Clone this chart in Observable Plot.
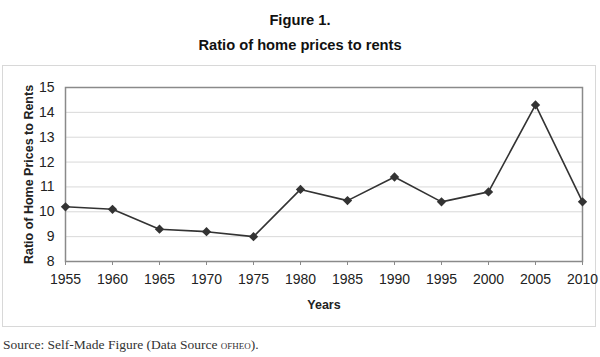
<!DOCTYPE html>
<html>
<head>
<meta charset="utf-8">
<script src="https://cdn.jsdelivr.net/npm/d3@7"></script>
<script src="https://cdn.jsdelivr.net/npm/@observablehq/plot@0.6"></script>
<style>
  html, body { margin: 0; padding: 0; background: #fff; }
  #wrap { position: relative; width: 600px; height: 357px; overflow: hidden; font-family: "Liberation Sans", Arial, sans-serif; }
  .title { position: absolute; left: 0; width: 600px; text-align: center; font-weight: bold; font-size: 14.7px; color: #111; }
  #box { position: absolute; left: 2px; top: 65px; width: 594px; height: 262px; border: 1px solid #d8d8d8; box-sizing: border-box; }
  #chart { position: absolute; left: 0; top: 65px; }
  #caption { position: absolute; left: 3px; top: 337px; font-family: "Liberation Serif", "DejaVu Serif", serif; font-size: 13.5px; color: #333; }
  .sc { font-variant: small-caps; }
</style>
</head>
<body>
<div id="wrap">
  <div class="title" style="top:12px">Figure 1.</div>
  <div class="title" style="top:37px">Ratio of home prices to rents</div>
  <div id="box"></div>
  <div id="chart"></div>
  <div id="caption">Source: Self-Made Figure (Data Source <span class="sc">ofheo</span>).</div>
</div>
<script>
const years = [1955, 1960, 1965, 1970, 1975, 1980, 1985, 1990, 1995, 2000, 2005, 2010];
const ratios = [10.2, 10.1, 9.3, 9.2, 9.0, 10.9, 10.45, 11.4, 10.4, 10.8, 14.3, 10.4];
const yTicks = [8, 9, 10, 11, 12, 13, 14, 15];
const yLabel = "Ratio of Home Prices to Rents";
const xLabel = "Years";

const data = years.map((y, i) => ({year: y, ratio: ratios[i]}));

const plot = Plot.plot({
  width: 600,
  height: 270,
  marginTop: 22,
  marginBottom: 74,
  marginLeft: 65,
  marginRight: 18,
  style: {fontFamily: "'Liberation Sans', Arial, sans-serif", fontSize: "14px", color: "#222", background: "transparent"},
  x: {domain: [1955, 2010], label: null},
  y: {domain: [8, 15], label: null},
  marks: [
    Plot.gridY(yTicks, {stroke: "#d9d9d9", strokeOpacity: 1}),
    Plot.frame({stroke: "#8a8a8a", strokeWidth: 1.5}),
    Plot.axisX(years, {anchor: "bottom", tickFormat: d => String(d), tickSize: 4, tickPadding: 9, stroke: "#8a8a8a", label: null, fontSize: 14}),
    Plot.axisY(yTicks, {anchor: "left", tickFormat: d => String(d), tickSize: 0, tickPadding: 11, label: null, fontSize: 14}),
    Plot.line(data, {x: "year", y: "ratio", stroke: "#333", strokeWidth: 1.6}),
    Plot.dot(data, {x: "year", y: "ratio", symbol: "diamond2", r: 4.2, fill: "#333", stroke: "none"}),
    Plot.text([yLabel], {frameAnchor: "left", rotate: -90, dx: -37, textAnchor: "middle", lineAnchor: "middle", fontWeight: "bold", fontSize: 12.5, fill: "#222"}),
    Plot.text([xLabel], {frameAnchor: "bottom", dy: 43, textAnchor: "middle", lineAnchor: "middle", fontWeight: "bold", fontSize: 12.5, fill: "#222"})
  ]
});
document.getElementById("chart").appendChild(plot);
</script>
</body>
</html>
